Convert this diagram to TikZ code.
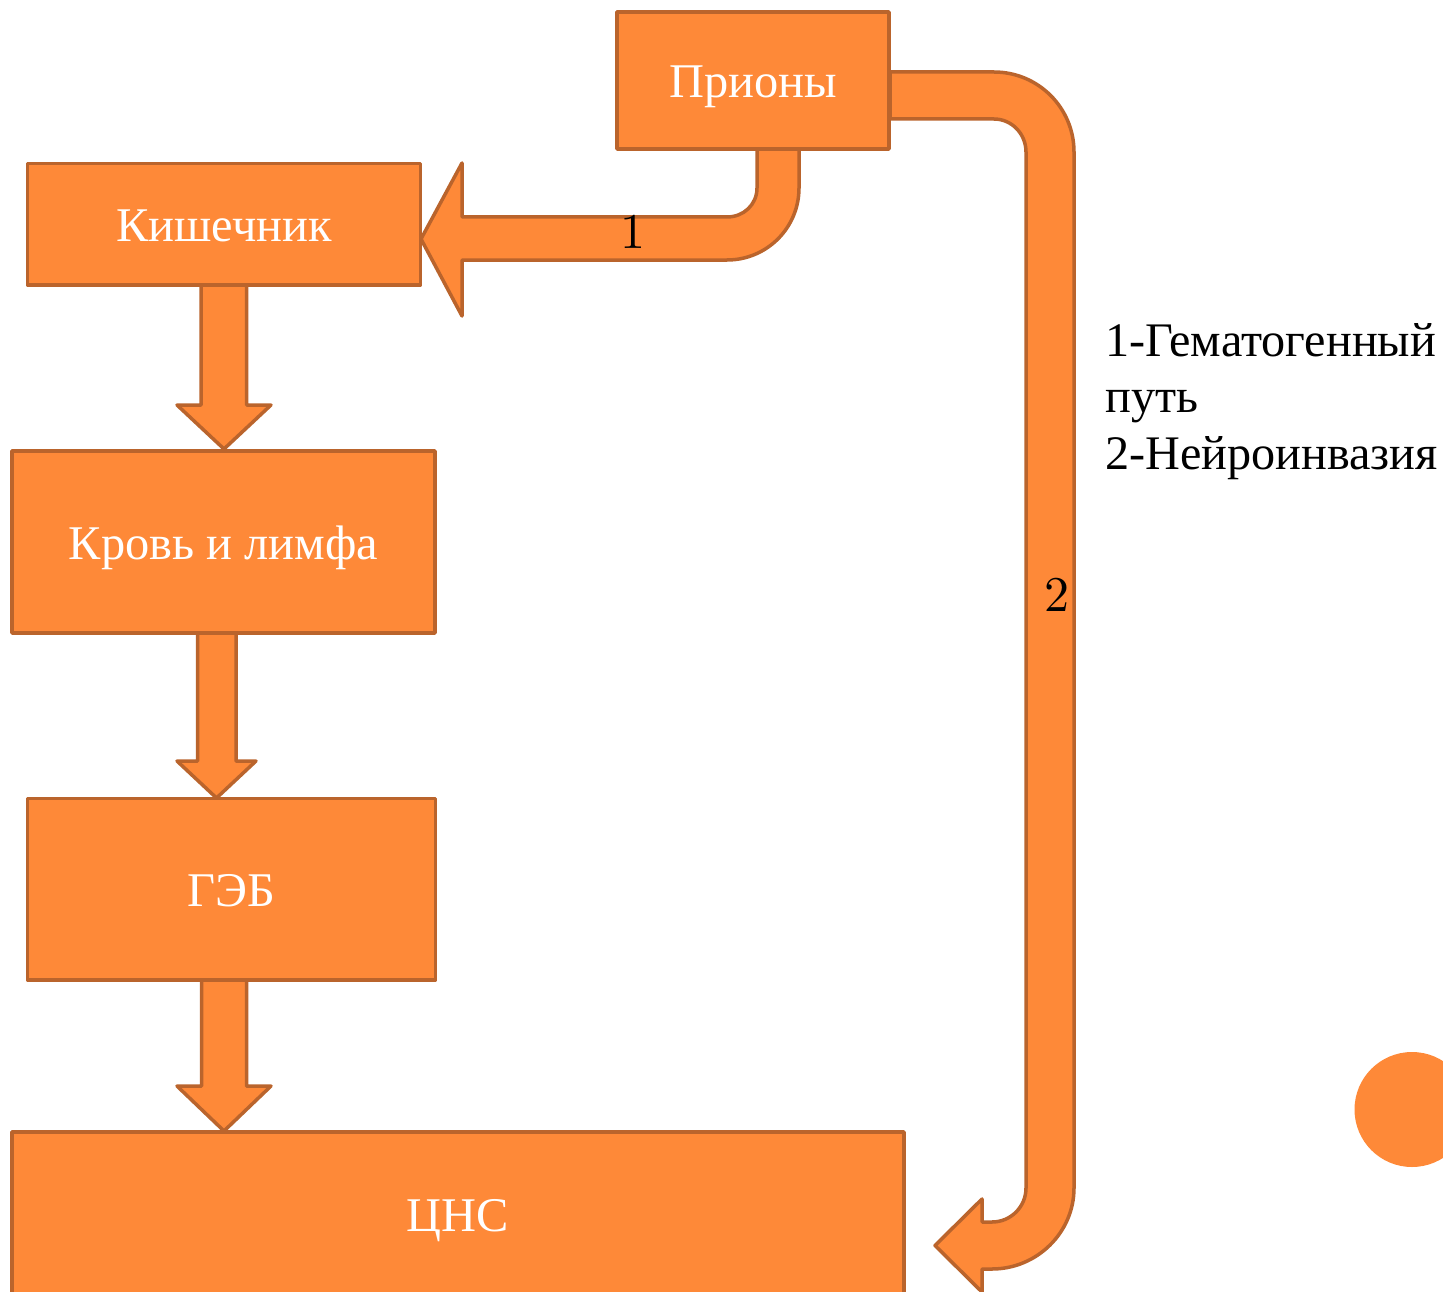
\documentclass[tikz,border=0pt]{standalone}
\usepackage{fontspec}
\setmainfont{Liberation Serif}
\newfontfamily\lmfont{lmroman10-regular.otf}
\definecolor{fillc}{RGB}{254,137,56}
\definecolor{linec}{RGB}{186,100,44}
\tikzset{
  box/.style={rectangle, draw=linec, fill=fillc, line width=3.5pt, line join=round,
    text=white, font=\fontsize{48.4}{58}\selectfont, text height=35pt, text depth=0pt, inner sep=0pt},
  blk/.style={draw=linec, fill=fillc, line width=3.5pt, line join=round},
  num/.style={font=\lmfont\fontsize{50}{60}\selectfont, text=black, inner sep=0pt, anchor=base},
  legend/.style={font=\fontsize{48.2}{58}\selectfont, text=black, anchor=base west, inner sep=0pt}
}
\begin{document}
\begin{tikzpicture}[x=1pt,y=-1pt]
\useasboundingbox (0,0) rectangle (1443,1292);
\clip (0,0) rectangle (1443,1292);

% block arrows (drawn under the boxes)
% 1: Prions -> Intestine
\draw[blk] (757,149) -- (757,188) .. controls (757,204.6) and (743.6,217) .. (727,217)
  -- (462,217) -- (462,163) -- (421,239) -- (462,316) -- (462,260) -- (727,260)
  .. controls (766.8,260) and (799,227.8) .. (799,188) -- (799,149) -- cycle;
% 2: Prions -> CNS
\draw[blk] (890,72) -- (994,72) .. controls (1038.2,72) and (1074,107.8) .. (1074,152)
  -- (1074,1188) .. controls (1074,1232.7) and (1036.7,1269) .. (992,1269)
  -- (982,1269) -- (982,1292) -- (935,1245.5) -- (982,1199) -- (982,1222) -- (992,1222)
  .. controls (1010.8,1222) and (1026,1206.8) .. (1026,1188)
  -- (1026,152) .. controls (1026,133.8) and (1011.7,119) .. (994,119) -- (890,119) -- cycle;
% down arrows
\draw[blk] (201,285) -- (201,405) -- (177,405) -- (224,449) -- (271,405) -- (246.5,405) -- (246.5,285) -- cycle;
\draw[blk] (197.5,633) -- (197.5,761) -- (177,761) -- (216.5,798) -- (256,761) -- (236,761) -- (236,633) -- cycle;
\draw[blk] (201.5,980) -- (201.5,1086) -- (177,1086) -- (224,1131) -- (271,1086) -- (246.5,1086) -- (246.5,980) -- cycle;

% boxes
\node[box, minimum width=272, minimum height=137] (prion) at (753,80.5) {Прионы};
\node[box, minimum width=393, minimum height=121.5] (kish) at (224,224.3) {Кишечник};
\node[box, minimum width=423, minimum height=182] (krov) at (223.5,542) {Кровь и лимфа};
\node[box, minimum width=408, minimum height=181.5] (geb) at (231.6,889.2) {ГЭБ};
\node[box, minimum width=892, minimum height=163] (cns) at (458,1213.5) {ЦНС};

% path labels
\node[num] (n1) at (633,248) {1};
\node[num] (n2) at (1056.5,611) {2};

% legend
\node[legend] (leg1) at (1105,356) {1-Гематогенный};
\node[legend] (leg2) at (1105,412.5) {путь};
\node[legend] (leg3) at (1105,469) {2-Нейроинвазия};

% decorative dot
\fill[fillc] (1412,1109.5) circle (57.5);
\end{tikzpicture}
\end{document}
